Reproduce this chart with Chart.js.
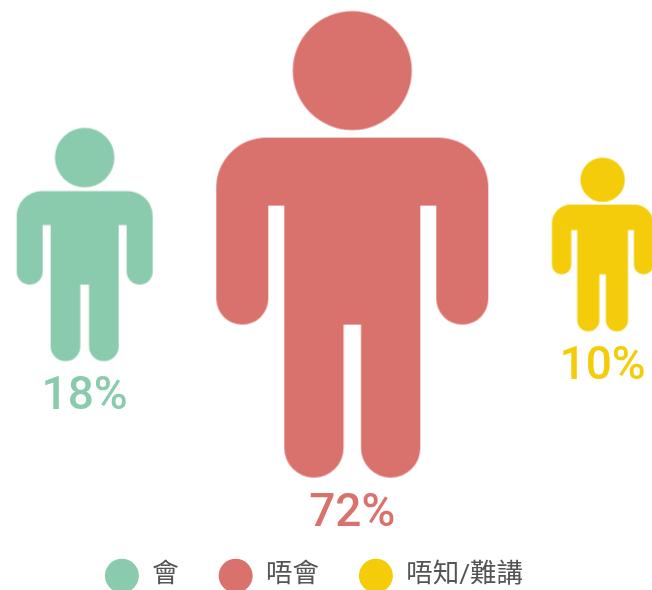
<!DOCTYPE html>
<html>
<head>
<meta charset="utf-8">
<style>html,body{margin:0;padding:0;background:#fff}#box{width:652px;height:590px;position:relative;overflow:hidden}#c{display:block}</style>
<script src="https://cdn.jsdelivr.net/npm/chart.js@4"></script>
</head>
<body>
<div id="box"><canvas id="c"></canvas></div>
<script>
const categories = ['會', '唔會', '唔知/難講'];
const values = [18, 72, 10];
const colors = ['#89cbac', '#d9716c', '#f4cc0a'];
const PX_PER_UNIT = 32.06;   // pixels per sqrt(percent) on the x scale
const GAP_UNITS = 1.97;      // gap between icons, in x scale units

function iconCanvas(value, color) {
  const s = Math.sqrt(value) * PX_PER_UNIT / 272;
  const w = Math.ceil(280 * s / 2) * 2, h = Math.ceil(474 * s / 2) * 2;
  const cv = document.createElement('canvas');
  cv.width = w; cv.height = h;
  const g = cv.getContext('2d');
  g.translate(w / 2, h / 2);
  g.scale(s, s);
  g.fillStyle = color;
  g.beginPath();
  g.arc(0, -174, 59.5, 0, Math.PI * 2);
  g.closePath();
  g.moveTo(-86, -107);
  g.lineTo(86, -107);
  g.arc(86, -57, 50, -Math.PI / 2, 0);
  g.lineTo(136, 54);
  g.arc(110, 54, 26, 0, Math.PI);
  g.lineTo(84, -39);
  g.lineTo(68, -39);
  g.lineTo(68, 203.3);
  g.arc(38.35, 203.3, 29.65, 0, Math.PI);
  g.lineTo(8.7, 80);
  g.lineTo(-8.7, 80);
  g.lineTo(-8.7, 203.3);
  g.arc(-38.35, 203.3, 29.65, 0, Math.PI);
  g.lineTo(-68, -39);
  g.lineTo(-84, -39);
  g.lineTo(-84, 54);
  g.arc(-110, 54, 26, 0, Math.PI);
  g.lineTo(-136, -57);
  g.arc(-86, -57, 50, Math.PI, Math.PI * 1.5);
  g.closePath();
  g.fill();
  return cv;
}

// icons are packed left to right; each is sqrt(value) units wide
let cursor = 0;
const centres = values.map(v => {
  const c = cursor + Math.sqrt(v) / 2;
  cursor += Math.sqrt(v) + GAP_UNITS;
  return c;
});

const valueLabels = {
  id: 'valueLabels',
  afterDatasetsDraw(chart) {
    const ctx = chart.ctx;
    ctx.save();
    ctx.textAlign = 'center';
    ctx.textBaseline = 'alphabetic';
    ctx.font = '500 46px Roboto';
    values.forEach((v, i) => {
      const el = chart.getDatasetMeta(i).data[0];
      const halfH = 233 * Math.sqrt(v) * PX_PER_UNIT / 272;
      ctx.fillStyle = colors[i];
      ctx.fillText(v + '%', el.x, el.y + halfH + 48);
    });
    ctx.restore();
  }
};

new Chart(document.getElementById('c'), {
  type: 'bubble',
  data: {
    datasets: categories.map((name, i) => ({
      label: name,
      data: [{ x: centres[i], y: 0, r: 0.5 }],
      backgroundColor: colors[i],
      borderColor: colors[i],
      borderWidth: 0,
      pointStyle: iconCanvas(values[i], colors[i]),
      clip: false
    }))
  },
  plugins: [valueLabels],
  options: {
    responsive: true,
    maintainAspectRatio: false,
    animation: false,
    layout: { padding: { top: 0, left: 0, right: 24, bottom: -9 } },
    scales: {
      x: { type: 'linear', display: false, min: -0.39, max: 19.04 },
      y: { type: 'linear', display: false, min: -1.155, max: 1 }
    },
    plugins: {
      tooltip: { enabled: false },
      legend: {
        position: 'bottom',
        labels: {
          usePointStyle: true,
          pointStyle: 'circle',
          pointStyleWidth: 34,
          boxHeight: 24,
          padding: 40,
          color: '#555',
          font: { family: 'Roboto, "Noto Sans CJK TC"', size: 26.5 }
        }
      }
    }
  }
});
</script>
</body>
</html>
